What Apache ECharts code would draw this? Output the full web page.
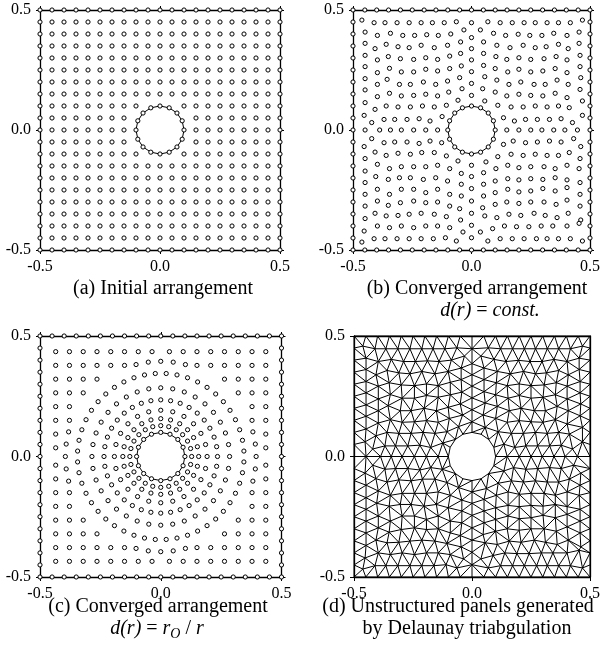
<!DOCTYPE html>
<html><head><meta charset="utf-8">
<script src="https://cdn.jsdelivr.net/npm/echarts@6/dist/echarts.min.js"></script>
<style>html,body{margin:0;padding:0;background:#fff}#chart{width:603px;height:650px}</style>
</head><body><div id="chart"></div>
<script>
// ---------- data ----------
const tickValues = [-0.5, 0.0, 0.5];
const gridA = [-0.45,-0.4,-0.35,-0.3,-0.25,-0.2,-0.15,-0.1,-0.05,0,0.05,0.1,0.15,0.2,0.25,0.3,0.35,0.4,0.45];
const boundaryPos = [-0.5,-0.45,-0.4,-0.35,-0.3,-0.25,-0.2,-0.15,-0.1,-0.05,0,0.05,0.1,0.15,0.2,0.25,0.3,0.35,0.4,0.45,0.5];
const holeRadius = 0.1;
const holePoints = [[0.1,0],[0.0924,0.0383],[0.0707,0.0707],[0.0383,0.0924],[0,0.1],[-0.0383,0.0924],[-0.0707,0.0707],[-0.0924,0.0383],[-0.1,0],[-0.0924,-0.0383],[-0.0707,-0.0707],[-0.0383,-0.0924],[0,-0.1],[0.0383,-0.0924],[0.0707,-0.0707],[0.0924,-0.0383]];

// (b) converged arrangement, d(r)=const.
const pointsB = [
[-0.4625,0.458],[-0.411,0.447],[-0.365,0.447],[-0.314,0.447],[-0.263,0.447],[-0.2125,0.447],[-0.165,0.447],[-0.115,0.447],[-0.064,0.451],
[-0.449,0.408],[-0.397,0.394],[-0.342,0.403],[-0.290,0.394],[-0.240,0.394],[-0.189,0.397],[-0.140,0.394],[-0.0875,0.400],[-0.032,0.417],
[-0.449,0.361],[-0.407,0.339],[-0.360,0.357],[-0.310,0.347],[-0.263,0.343],[-0.2125,0.353],[-0.157,0.343],[-0.101,0.353],[-0.046,0.367],
[-0.449,0.311],[-0.397,0.292],[-0.351,0.306],[-0.300,0.297],[-0.244,0.294],[-0.193,0.301],[-0.143,0.294],[-0.092,0.308],[-0.046,0.319],
[-0.449,0.264],[-0.397,0.239],[-0.346,0.257],[-0.296,0.242],[-0.244,0.242],[-0.193,0.253],[-0.143,0.246],[-0.092,0.256],[-0.043,0.267],
[-0.449,0.214],[-0.397,0.190],[-0.356,0.211],[-0.304,0.190],[-0.258,0.190],[-0.203,0.200],[-0.151,0.190],[-0.101,0.204],[-0.050,0.218],
[-0.449,0.167],[-0.397,0.139],[-0.346,0.153],[-0.296,0.142],[-0.244,0.144],[-0.193,0.149],[-0.143,0.142],[-0.096,0.158],[-0.040,0.172],
[-0.449,0.114],[-0.407,0.086],[-0.360,0.100],[-0.310,0.096],[-0.258,0.096],[-0.207,0.100],[-0.157,0.096],[-0.106,0.103],[-0.057,0.124],
[-0.453,0.061],[-0.421,0.031],[-0.369,0.044],[-0.324,0.044],[-0.272,0.044],[-0.221,0.047],[-0.175,0.0375],[-0.124,0.056],
[-0.449,0],[-0.3875,0],[-0.342,0],[-0.296,0],[-0.244,0],[-0.193,0],[-0.143,0],
[0,0.447],[0.069,0.451],[0.121,0.447],[0.172,0.447],[0.222,0.447],[0.269,0.447],[0.319,0.447],[0.367,0.447],[0.417,0.447],[0.468,0.458],
[0,0.385],[0.0375,0.417],[0.093,0.403],[0.144,0.394],[0.197,0.399],[0.246,0.394],[0.297,0.394],[0.347,0.403],[0.403,0.394],[0.454,0.408],
[0,0.339],[0.051,0.367],[0.107,0.353],[0.1625,0.343],[0.218,0.353],[0.269,0.343],[0.315,0.347],[0.367,0.357],[0.408,0.339],[0.454,0.361],
[0,0.292],[0.051,0.319],[0.103,0.306],[0.149,0.294],[0.200,0.301],[0.25,0.294],[0.306,0.297],[0.357,0.306],[0.403,0.292],[0.458,0.311],
[0,0.243],[0.051,0.269],[0.1,0.256],[0.153,0.242],[0.2,0.253],[0.25,0.242],[0.301,0.246],[0.353,0.256],[0.403,0.239],[0.458,0.264],
[0,0.194],[0.056,0.222],[0.107,0.208],[0.158,0.190],[0.208,0.2],[0.264,0.19],[0.311,0.19],[0.361,0.208],[0.408,0.19],[0.461,0.218],
[0,0.144],[0.047,0.172],[0.1,0.158],[0.149,0.142],[0.2,0.149],[0.25,0.144],[0.301,0.142],[0.353,0.153],[0.403,0.135],[0.458,0.169],
[0.056,0.121],[0.111,0.103],[0.167,0.096],[0.218,0.096],[0.269,0.1],[0.319,0.096],[0.367,0.1],[0.4125,0.093],[0.468,0.121],
[0.135,0.051],[0.181,0.0375],[0.228,0.044],[0.278,0.044],[0.329,0.044],[0.378,0.047],[0.426,0.031],[0.468,0.061],
[0.149,0],[0.2,0],[0.25,0],[0.297,0],[0.347,0],[0.394,0],[0.447,0],
[-0.421,-0.036],[-0.453,-0.069],[-0.369,-0.053],[-0.324,-0.05],[-0.272,-0.05],[-0.221,-0.056],[-0.175,-0.046],[-0.126,-0.053],
[-0.407,-0.092],[-0.360,-0.106],[-0.310,-0.097],[-0.258,-0.101],[-0.210,-0.094],[-0.157,-0.094],[-0.106,-0.108],[-0.057,-0.129],[-0.449,-0.119],
[-0.397,-0.143],[-0.346,-0.161],[-0.296,-0.153],[-0.244,-0.153],[-0.193,-0.153],[-0.143,-0.147],[-0.092,-0.161],[-0.043,-0.181],[-0.449,-0.171],
[-0.404,-0.194],[-0.351,-0.206],[-0.304,-0.199],[-0.258,-0.199],[-0.203,-0.206],[-0.151,-0.199],[-0.101,-0.2125],[-0.043,-0.226],[-0.449,-0.219],
[-0.397,-0.247],[-0.346,-0.268],[-0.296,-0.247],[-0.244,-0.247],[-0.193,-0.261],[-0.143,-0.247],[-0.092,-0.268],[-0.043,-0.275],[-0.449,-0.268],
[-0.397,-0.296],[-0.351,-0.314],[-0.300,-0.303],[-0.244,-0.296],[-0.193,-0.303],[-0.143,-0.3],[-0.092,-0.317],[-0.050,-0.328],[-0.449,-0.317],
[-0.407,-0.347],[-0.360,-0.358],[-0.310,-0.356],[-0.263,-0.351],[-0.2125,-0.347],[-0.157,-0.351],[-0.106,-0.361],[-0.046,-0.375],[-0.449,-0.369],
[-0.397,-0.4],[-0.346,-0.407],[-0.296,-0.4],[-0.244,-0.407],[-0.193,-0.4],[-0.143,-0.4],[-0.092,-0.407],[-0.036,-0.425],[-0.453,-0.421],
[-0.411,-0.453],[-0.365,-0.453],[-0.314,-0.453],[-0.263,-0.453],[-0.2125,-0.453],[-0.161,-0.453],[-0.110,-0.449],[-0.064,-0.4625],[-0.4625,-0.467],
[0.135,-0.06],[0.176,-0.046],[0.228,-0.053],[0.278,-0.05],[0.329,-0.046],[0.378,-0.05],[0.431,-0.036],[0.461,-0.069],
[0.061,-0.133],[0.111,-0.111],[0.167,-0.101],[0.218,-0.106],[0.269,-0.101],[0.319,-0.106],[0.367,-0.106],[0.4125,-0.094],[0.458,-0.119],
[0,-0.147],[0.051,-0.178],[0.103,-0.161],[0.153,-0.147],[0.2,-0.157],[0.25,-0.153],[0.306,-0.153],[0.353,-0.161],[0.403,-0.147],[0.454,-0.161],
[0,-0.194],[0.051,-0.226],[0.1,-0.2125],[0.153,-0.203],[0.2,-0.208],[0.25,-0.203],[0.301,-0.206],[0.353,-0.199],[0.403,-0.208],[0.458,-0.219],
[0,-0.244],[0.051,-0.275],[0.1,-0.261],[0.153,-0.247],[0.2,-0.258],[0.25,-0.254],[0.301,-0.244],[0.353,-0.254],[0.403,-0.24],[0.458,-0.268],
[0,-0.296],[0.047,-0.324],[0.1,-0.31],[0.149,-0.3],[0.2,-0.306],[0.25,-0.3],[0.306,-0.3],[0.357,-0.31],[0.403,-0.292],[0.458,-0.317],
[0,-0.347],[0.056,-0.358],[0.107,-0.365],[0.158,-0.351],[0.208,-0.356],[0.264,-0.347],[0.311,-0.356],[0.361,-0.365],[0.408,-0.347],[0.461,-0.375],
[0,-0.397],[0.089,-0.411],[0.139,-0.4],[0.19,-0.403],[0.242,-0.403],[0.294,-0.4],[0.343,-0.4],[0.403,-0.4],[0.454,-0.389],
[0,-0.449],[0.0375,-0.425],[0.069,-0.4625],[0.121,-0.453],[0.172,-0.453],[0.222,-0.453],[0.274,-0.453],[0.319,-0.453],[0.367,-0.453],[0.417,-0.453],[0.468,-0.4625]
];

// (c) converged arrangement, d(r)=r0/r : points on rays around the hole ...
const ringPointsC = [
[0.128,0],[0.1236,0.0331],[0.1109,0.064],[0.0905,0.0905],[0.064,0.1109],[0.0331,0.1236],
[0,0.128],[-0.0331,0.1236],[-0.064,0.1109],[-0.0905,0.0905],[-0.1109,0.064],[-0.1236,0.0331],
[-0.128,0],[-0.1236,-0.0331],[-0.1109,-0.064],[-0.0905,-0.0905],[-0.064,-0.1109],[-0.0331,-0.1236],
[0,-0.128],[0.0331,-0.1236],[0.064,-0.1109],[0.0905,-0.0905],[0.1109,-0.064],[0.1236,-0.0331],
[0.157,0],[0.1517,0.0406],[0.136,0.0785],[0.111,0.111],[0.0785,0.136],[0.0406,0.1517],
[0,0.157],[-0.0406,0.1517],[-0.0785,0.136],[-0.111,0.111],[-0.136,0.0785],[-0.1517,0.0406],
[-0.157,0],[-0.1517,-0.0406],[-0.136,-0.0785],[-0.111,-0.111],[-0.0785,-0.136],[-0.0406,-0.1517],
[0,-0.157],[0.0406,-0.1517],[0.0785,-0.136],[0.111,-0.111],[0.136,-0.0785],[0.1517,-0.0406],
[0.192,0],[0.1855,0.0497],[0.1663,0.096],[0.1358,0.1358],[0.096,0.1663],[0.0497,0.1855],
[0,0.192],[-0.0497,0.1855],[-0.096,0.1663],[-0.1358,0.1358],[-0.1663,0.096],[-0.1855,0.0497],
[-0.192,0],[-0.1855,-0.0497],[-0.1663,-0.096],[-0.1358,-0.1358],[-0.096,-0.1663],[-0.0497,-0.1855],
[0,-0.192],[0.0497,-0.1855],[0.096,-0.1663],[0.1358,-0.1358],[0.1663,-0.096],[0.1855,-0.0497],
[0.235,0],[0.2314,0.0408],[0.2208,0.0804],[0.2035,0.1175],[0.18,0.1511],[0.1511,0.18],[0.1175,0.2035],[0.0804,0.2208],[0.0408,0.2314],
[0,0.235],[-0.0408,0.2314],[-0.0804,0.2208],[-0.1175,0.2035],[-0.1511,0.18],[-0.18,0.1511],[-0.2035,0.1175],[-0.2208,0.0804],[-0.2314,0.0408],
[-0.235,0],[-0.2314,-0.0408],[-0.2208,-0.0804],[-0.2035,-0.1175],[-0.18,-0.1511],[-0.1511,-0.18],[-0.1175,-0.2035],[-0.0804,-0.2208],[-0.0408,-0.2314],
[0,-0.235],[0.0408,-0.2314],[0.0804,-0.2208],[0.1175,-0.2035],[0.1511,-0.18],[0.18,-0.1511],[0.2035,-0.1175],[0.2208,-0.0804],[0.2314,-0.0408],
[0.285,0],[0.2807,0.0495],[0.2678,0.0975],[0.2468,0.1425],[0.2183,0.1832],[0.1832,0.2183],[0.1425,0.2468],[0.0975,0.2678],[0.0495,0.2807],
[0,0.285],[-0.0495,0.2807],[-0.0975,0.2678],[-0.1425,0.2468],[-0.1832,0.2183],[-0.2183,0.1832],[-0.2468,0.1425],[-0.2678,0.0975],[-0.2807,0.0495],
[-0.285,0],[-0.2807,-0.0495],[-0.2678,-0.0975],[-0.2468,-0.1425],[-0.2183,-0.1832],[-0.1832,-0.2183],[-0.1425,-0.2468],[-0.0975,-0.2678],[-0.0495,-0.2807],
[0,-0.285],[0.0495,-0.2807],[0.0975,-0.2678],[0.1425,-0.2468],[0.1832,-0.2183],[0.2183,-0.1832],[0.2468,-0.1425],[0.2678,-0.0975],[0.2807,-0.0495],
[0.3443,0.0226],[0.3384,0.0673],[0.3267,0.1109],[0.3094,0.1526],[0.2869,0.1917],[0.2594,0.2275],[0.2275,0.2594],[0.1917,0.2869],[0.1526,0.3094],[0.1109,0.3267],[0.0673,0.3384],[0.0226,0.3443],
[-0.0226,0.3443],[-0.0673,0.3384],[-0.1109,0.3267],[-0.1526,0.3094],[-0.1917,0.2869],[-0.2275,0.2594],[-0.2594,0.2275],[-0.2869,0.1917],[-0.3094,0.1526],[-0.3267,0.1109],[-0.3384,0.0673],[-0.3443,0.0226],
[-0.3443,-0.0226],[-0.3384,-0.0673],[-0.3267,-0.1109],[-0.3094,-0.1526],[-0.2869,-0.1917],[-0.2594,-0.2275],[-0.2275,-0.2594],[-0.1917,-0.2869],[-0.1526,-0.3094],[-0.1109,-0.3267],[-0.0673,-0.3384],[-0.0226,-0.3443],
[0.0226,-0.3443],[0.0673,-0.3384],[0.1109,-0.3267],[0.1526,-0.3094],[0.1917,-0.2869],[0.2275,-0.2594],[0.2594,-0.2275],[0.2869,-0.1917],[0.3094,-0.1526],[0.3267,-0.1109],[0.3384,-0.0673],[0.3443,-0.0226],
[0.395,0],[0.3916,0.0516],[0.3815,0.1022],[0.3916,-0.0516],[0.3815,-0.1022],
[0,0.395],[0.0516,0.3916],[0.1022,0.3815],[-0.0516,0.3916],[-0.1022,0.3815],
[-0.395,0],[-0.3916,0.0516],[-0.3815,0.1022],[-0.3916,-0.0516],[-0.3815,-0.1022],
[0,-0.395],[0.0516,-0.3916],[0.1022,-0.3815],[-0.0516,-0.3916],[-0.1022,-0.3815]
];
// ... and a near-regular grid of points in the outer corners of panel (c)
const gridC = [-0.435,-0.378,-0.321,-0.264,-0.207,-0.15,-0.093,-0.036,0.036,0.093,0.15,0.207,0.264,0.321,0.378,0.435];
const gridCInnerRadius = 0.39;

// ---------- derived point sets ----------
const boundary = [];
boundaryPos.forEach(p => {
  boundary.push([p,-0.5],[p,0.5]);
  if (Math.abs(p) < 0.5) boundary.push([-0.5,p],[0.5,p]);
});
const interiorA = [];
gridA.forEach(x => gridA.forEach(y => { if (Math.hypot(x,y) > 0.115) interiorA.push([x,y]); }));
const outerC = [];
gridC.forEach(x => gridC.forEach(y => { if (Math.hypot(x,y) > gridCInnerRadius) outerC.push([x,y]); }));
const pointsC = ringPointsC.concat(outerC);
const holeLoop = holePoints.concat([holePoints[0]]);

// ---------- Delaunay (Bowyer-Watson) for panel (d) ----------
function circum(a,b,c){
  const ax=a[0],ay=a[1],bx=b[0],by=b[1],cx=c[0],cy=c[1];
  const d=2*(ax*(by-cy)+bx*(cy-ay)+cx*(ay-by));
  const a2=ax*ax+ay*ay,b2=bx*bx+by*by,c2=cx*cx+cy*cy;
  const ux=(a2*(by-cy)+b2*(cy-ay)+c2*(ay-by))/d;
  const uy=(a2*(cx-bx)+b2*(ax-cx)+c2*(bx-ax))/d;
  return [ux,uy,(ax-ux)*(ax-ux)+(ay-uy)*(ay-uy)];
}
function delaunay(pts){
  const n=pts.length, P=pts.slice();
  P.push([-100,-100],[100,-100],[0,100]);
  let tris=[{v:[n,n+1,n+2],c:circum(P[n],P[n+1],P[n+2])}];
  for(let i=0;i<n;i++){
    const p=P[i], bad=[], keep=[];
    for(const t of tris){
      const dx=p[0]-t.c[0], dy=p[1]-t.c[1];
      if(dx*dx+dy*dy < t.c[2]-1e-12) bad.push(t); else keep.push(t);
    }
    const ec=new Map();
    for(const t of bad) for(let k=0;k<3;k++){
      const a=t.v[k], b=t.v[(k+1)%3];
      const key=a<b?a+','+b:b+','+a;
      ec.set(key,(ec.get(key)||0)+1);
    }
    tris=keep;
    for(const [key,cnt] of ec){
      if(cnt===1){
        const [a,b]=key.split(',').map(Number);
        tris.push({v:[a,b,i],c:circum(P[a],P[b],p)});
      }
    }
  }
  return tris.filter(t=>t.v.every(v=>v<n)).map(t=>t.v);
}
const meshPts = boundary.concat(holePoints, pointsB);
const tri = delaunay(meshPts).filter(t => {
  const cx=(meshPts[t[0]][0]+meshPts[t[1]][0]+meshPts[t[2]][0])/3;
  const cy=(meshPts[t[0]][1]+meshPts[t[1]][1]+meshPts[t[2]][1])/3;
  return Math.hypot(cx,cy) > holeRadius*0.95;
});
const edgeSet=new Set(), edges=[];
tri.forEach(t=>{for(let k=0;k<3;k++){const a=t[k],b=t[(k+1)%3];const key=a<b?a+','+b:b+','+a;
  if(!edgeSet.has(key)){edgeSet.add(key);edges.push([meshPts[a][0],meshPts[a][1],meshPts[b][0],meshPts[b][1]]);}}});

// ---------- chart ----------
const FONT='Liberation Serif';
const grids=[
  {left:40,top:10,width:240,height:240},
  {left:353,top:10,width:241,height:240},
  {left:40,top:336,width:241.5,height:241},
  {left:354,top:336,width:240,height:241}
];
const xAxes=[], yAxes=[];
grids.forEach((g,i)=>{
  const base={type:'value',min:tickValues[0],max:tickValues[tickValues.length-1],interval:tickValues[1]-tickValues[0],
    gridIndex:i,splitLine:{show:false},
    axisLine:{show:true,onZero:false,lineStyle:{color:'#000',width:1.3}},
    axisTick:{show:true,length:4,lineStyle:{color:'#000',width:1}},
    axisLabel:{show:true,margin:9,color:'#000',fontFamily:FONT,fontSize:16,formatter:v=>v.toFixed(1)}};
  const mirrorTicks = i<3;
  xAxes.push(Object.assign({},base,{position:'bottom'}));
  xAxes.push(Object.assign({},base,{position:'top',axisLabel:{show:false},axisTick:{show:mirrorTicks,length:4,lineStyle:{color:'#000',width:1}}}));
  yAxes.push(Object.assign({},base,{position:'left'}));
  yAxes.push(Object.assign({},base,{position:'right',axisLabel:{show:false},axisTick:{show:mirrorTicks,length:4,lineStyle:{color:'#000',width:1}}}));
});
const sym={type:'scatter',symbol:'circle',symbolSize:4.2,silent:true,
  itemStyle:{color:'#fff',borderColor:'#000',borderWidth:1,opacity:1},z:5};
const loop={type:'line',symbol:'none',silent:true,z:4,lineStyle:{color:'#000',width:1}};
const series=[
  Object.assign({},loop,{xAxisIndex:0,yAxisIndex:0,data:holeLoop}),
  Object.assign({},loop,{xAxisIndex:2,yAxisIndex:2,data:holeLoop}),
  Object.assign({},loop,{xAxisIndex:4,yAxisIndex:4,data:holeLoop}),
  Object.assign({},sym,{xAxisIndex:0,yAxisIndex:0,data:boundary.concat(holePoints,interiorA)}),
  Object.assign({},sym,{xAxisIndex:2,yAxisIndex:2,data:boundary.concat(holePoints,pointsB)}),
  Object.assign({},sym,{xAxisIndex:4,yAxisIndex:4,data:boundary.concat(holePoints,pointsC)}),
  {type:'custom',xAxisIndex:6,yAxisIndex:6,silent:true,z:4,
   dimensions:['x1','y1','x2','y2'],encode:{x:[0,2],y:[1,3]},data:edges,
   renderItem:(params,api)=>{
     const p1=api.coord([api.value(0),api.value(1)]), p2=api.coord([api.value(2),api.value(3)]);
     return {type:'line',shape:{x1:p1[0],y1:p1[1],x2:p2[0],y2:p2[1]},style:{stroke:'#000',lineWidth:1}};
   }}
];
function cap(x,y,text,rich){
  return {type:'text',x:x,y:y,silent:true,style:{text:text,rich:rich||{},fill:'#000',
    font:'20px "'+FONT+'"',fontFamily:FONT,fontSize:20,align:'center',verticalAlign:'middle',
    textAlign:'center',textVerticalAlign:'middle',lineHeight:24}};
}
const richIt={i:{fontStyle:'italic',fontFamily:FONT,fontSize:20,lineHeight:24},
  s:{fontStyle:'italic',fontFamily:FONT,fontSize:14,lineHeight:24,verticalAlign:'bottom'}};
const chart=echarts.init(document.getElementById('chart'),null,{renderer:'canvas'});
chart.setOption({
  animation:false,backgroundColor:'#fff',
  grid:grids,xAxis:xAxes,yAxis:yAxes,series:series,
  graphic:[
    cap(163,289,'(a) Initial arrangement'),
    cap(477,289,'(b) Converged arrangement'),
    cap(490,311,'{i|d(r)} = {i|const.}',richIt),
    cap(158,607,'(c) Converged arrangement'),
    cap(157,629,'{i|d(r)} = {i|r}{s|O} / {i|r}',richIt),
    cap(458,607,'(d) Unstructured panels generated'),
    cap(467,629,'by Delaunay triabgulation')
  ]
});
</script></body></html>
